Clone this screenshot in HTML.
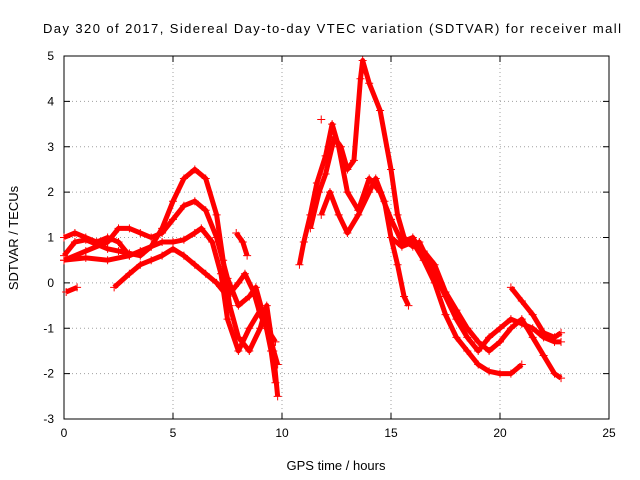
<!DOCTYPE html>
<html><head><meta charset="utf-8"><style>body{margin:0;background:#fff}svg{display:block;font-family:"Liberation Sans",sans-serif}</style></head>
<body>
<svg id="c" width="640" height="480"></svg>
<script>
const xTicks=[0,5,10,15,20,25];
const yTicks=[-3,-2,-1,0,1,2,3,4,5];
const sA=[[0,0.6],[0.5,0.9],[1,0.95],[1.5,0.85],[2,0.75],[2.5,0.7],[3,0.65],[3.5,0.6],[4,0.8],[4.5,1.2],[5,1.8],[5.5,2.3],[6,2.5],[6.5,2.3],[7,1.5],[7.3,0.5],[7.6,-0.5],[8,-1.2],[8.5,-1.5],[9,-1.0],[9.3,-0.5],[9.6,-1.5],[9.8,-2.5]];
const sB=[[0,0.5],[1,0.7],[2,0.9],[2.5,1.2],[3,1.2],[3.5,1.1],[4,1.0],[4.5,1.1],[5,1.4],[5.5,1.7],[6,1.8],[6.5,1.6],[7,1.0],[7.5,0.1],[8,-0.5],[8.5,-0.3],[8.8,-0.1],[9.2,-0.8],[9.5,-1.5],[9.7,-2.2]];
const sC=[[0,1.0],[0.5,1.1],[1,1.0],[1.5,0.9],[2,1.0],[2.5,0.9],[3,0.6],[3.5,0.7],[4,0.8],[4.5,0.9],[5,0.9],[5.5,0.95],[6,1.1],[6.3,1.2],[6.8,0.9],[7.2,0.2],[7.5,-0.8],[8,-1.5],[8.5,-1.0],[9,-0.6],[9.5,-1.3],[9.8,-1.8]];
const sD1=[[0.1,-0.2],[0.6,-0.1]];
const sD=[[2.3,-0.1],[3,0.2],[3.5,0.4],[4,0.5],[4.5,0.6],[5,0.75],[5.5,0.6],[6,0.4],[6.5,0.2],[7,0],[7.5,-0.3],[8,0],[8.3,0.2],[8.7,-0.2],[9,-0.7],[9.3,-1.0],[9.7,-1.3]];
const sE=[[0,0.5],[1,0.55],[2,0.5],[3,0.6]];
const sK=[[7.9,1.1],[8.2,0.9],[8.4,0.6]];
const sF=[[10.8,0.4],[11,0.9],[11.3,1.5],[11.6,2.2],[12,2.8],[12.3,3.5],[12.6,3.0],[13,2.0],[13.5,1.6],[14,2.3],[14.5,2.0],[15,1.4],[15.5,0.9],[16,1.0],[16.5,0.6],[17,0.2],[17.5,-0.3],[18,-0.8],[18.5,-1.2],[19,-1.5],[19.5,-1.2],[20,-1.0],[20.5,-0.8],[21,-0.9],[21.5,-1.0],[22,-1.2],[22.5,-1.3],[22.8,-1.3]];
const sG=[[11.3,1.2],[11.7,2.0],[12,2.4],[12.4,3.2],[12.7,3.0],[13,2.5],[13.3,2.7],[13.6,4.5],[13.7,4.9],[14,4.4],[14.5,3.8],[15,2.5],[15.3,1.5],[15.6,1.0],[16,0.8],[16.3,0.9],[16.5,0.7],[17,0.4],[17.5,-0.2],[18,-0.6],[18.5,-1.0],[19,-1.3],[19.5,-1.5],[20,-1.3],[20.5,-1.0],[21,-0.8],[21.5,-1.2],[22,-1.6],[22.5,-2.0],[22.8,-2.1]];
const sH=[[11.8,1.5],[12.2,2.0],[12.6,1.5],[13,1.1],[13.5,1.5],[14,2.0],[14.3,2.3],[14.7,1.8],[15,1.0],[15.3,0.4],[15.6,-0.3],[15.8,-0.5]];
const sI=[[15,1.0],[15.5,0.8],[16,0.9],[16.5,0.5],[17,0.0],[17.5,-0.7],[18,-1.2],[18.5,-1.5],[19,-1.8],[19.5,-1.95],[20,-2.0],[20.5,-2.0],[21,-1.8]];
const sJ=[[20.5,-0.1],[21,-0.4],[21.5,-0.7],[22,-1.1],[22.5,-1.2],[22.8,-1.1]];
const sL=[[11.8,3.6]];
const series=[sA,sB,sC,sD1,sD,sE,sK,sF,sG,sH,sI,sJ,sL];
const L=64,R=609,T=56,B=419,xmin=0,xmax=25,ymin=-3,ymax=5;
const X=v=>L+(v-xmin)/(xmax-xmin)*(R-L);
const Y=v=>B-(v-ymin)/(ymax-ymin)*(B-T);
const svg=document.getElementById('c');const NS='http://www.w3.org/2000/svg';
function mk(t,a,p){const e=document.createElementNS(NS,t);for(const k in a)e.setAttribute(k,a[k]);(p||svg).appendChild(e);return e;}
const grid=mk('g',{});


xTicks.forEach(t=>{if(t>xmin&&t<xmax)mk('line',{x1:X(t),x2:X(t),y1:T,y2:B,stroke:'#a0a0a0','stroke-dasharray':'1,3'},grid);
 mk('line',{x1:X(t),x2:X(t),y1:B,y2:B-6,stroke:'#000'},grid);mk('line',{x1:X(t),x2:X(t),y1:T,y2:T+6,stroke:'#000'},grid);
 const tx=mk('text',{x:X(t),y:B+18,'text-anchor':'middle','font-size':12});tx.textContent=t;
 
 });
yTicks.forEach(t=>{if(t>ymin&&t<ymax)mk('line',{x1:L,x2:R,y1:Y(t),y2:Y(t),stroke:'#a0a0a0','stroke-dasharray':'1,3'},grid);
 mk('line',{x1:L,x2:L+6,y1:Y(t),y2:Y(t),stroke:'#000'},grid);mk('line',{x1:R,x2:R-6,y1:Y(t),y2:Y(t),stroke:'#000'},grid);
 const tx=mk('text',{x:L-10,y:Y(t)+4,'text-anchor':'end','font-size':12});tx.textContent=t;
 
 });
const fr=mk('rect',{x:L,y:T,width:R-L,height:B-T,fill:'none',stroke:'#000'});


series.forEach((s,i)=>{const g=mk('g',{});
 
 
 if(s.length>1)mk('polyline',{points:s.map(p=>X(p[0])+','+Y(p[1])).join(' '),fill:'none',stroke:'#f00','stroke-width':5,'stroke-linejoin':'round'},g);
 s.forEach(p=>{const x=X(p[0]),y=Y(p[1]);mk('path',{d:`M${x-4},${y}H${x+4}M${x},${y-4}V${y+4}`,stroke:'#f00','stroke-width':1},g);});
});
const t1=mk('text',{x:332,y:33,'text-anchor':'middle','font-size':13,textLength:578});t1.textContent='Day 320 of 2017, Sidereal Day-to-day VTEC variation (SDTVAR) for receiver mall';


const t2=mk('text',{x:336,y:470,'text-anchor':'middle','font-size':13});t2.textContent='GPS time / hours';


const t3=mk('text',{x:0,y:0,'text-anchor':'middle','font-size':13,transform:'translate(18,238) rotate(-90)'});t3.textContent='SDTVAR / TECUs';


</script>
</body></html>
